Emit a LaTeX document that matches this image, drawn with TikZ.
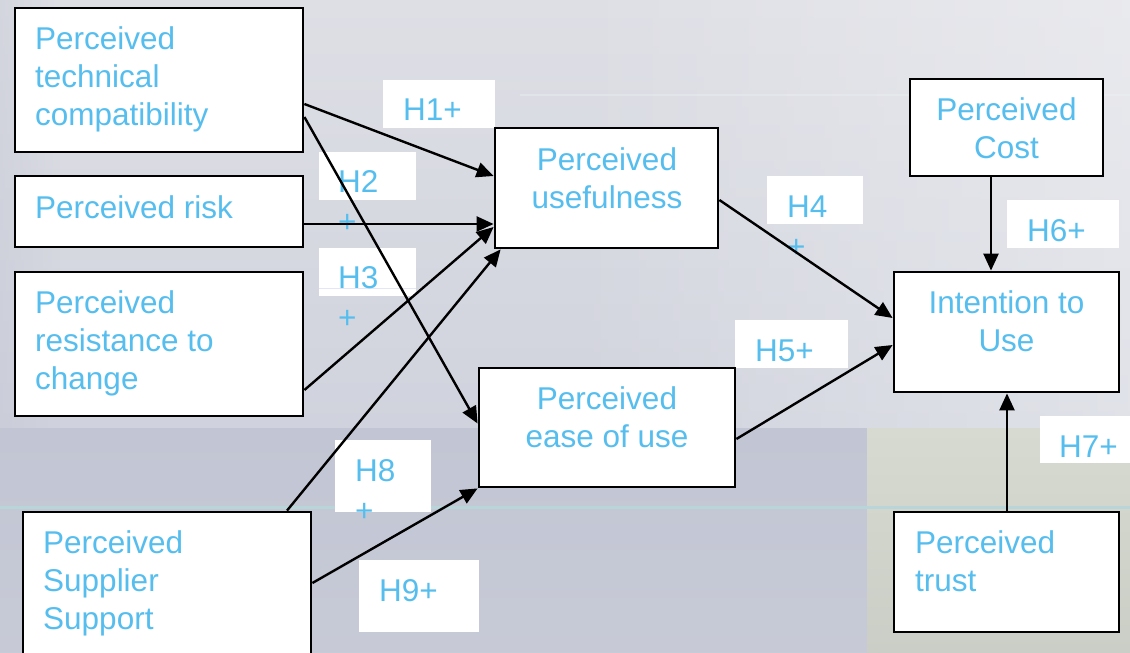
\documentclass[tikz,border=0pt]{standalone}
\usepackage{fontspec}
\setmainfont{Liberation Sans}
\usetikzlibrary{arrows.meta,fadings}
\definecolor{txtblue}{RGB}{86,190,238}
\definecolor{bgtop}{RGB}{222,223,229}
\definecolor{bgmid}{RGB}{208,211,221}
\definecolor{bglow}{RGB}{194,197,211}
\definecolor{bggreen}{RGB}{214,218,208}
\definecolor{bggreenlow}{RGB}{202,206,198}
\definecolor{tealline}{RGB}{184,214,218}
\tikzset{
  box/.style={draw=black, line width=2.8pt, fill=white, inner sep=0pt},
  lbl/.style={fill=white, inner sep=0pt},
  txt/.style={text=txtblue, inner sep=0pt, font=\fontsize{31.5}{38}\selectfont},
  ltxt/.style={text=txtblue, inner sep=0pt, font=\fontsize{31.5}{40}\selectfont},
  arr/.style={line width=2.4pt, -{Triangle[length=17pt,width=15pt]}}
}
\begin{document}
\begin{tikzpicture}[x=1pt,y=-1pt]
\useasboundingbox (0,0) rectangle (1130,653);
\clip (0,0) rectangle (1130,653);
% background
\shade[top color=bgtop, bottom color=bgmid] (0,0) rectangle (1130,428);
\shade[top color=bglow, bottom color=bglow!92!white] (0,428) rectangle (867,653);
\shade[top color=bggreen, bottom color=bggreenlow] (867,428) rectangle (1130,653);
\fill[white, opacity=0.35, path fading=west] (560,0) rectangle (1130,428);
\fill[bglow, opacity=0.35, path fading=east] (0,0) rectangle (60,428);
\draw[tealline, line width=3pt] (0,507) -- (1130,507);
\draw[white!70!tealline, line width=2pt, opacity=0.4] (520,95) -- (1130,95);

% label rectangles
\node[lbl, minimum width=112pt, minimum height=48pt] (l1) at (439,104) {};
\node[lbl, minimum width=97pt, minimum height=48pt] (l2) at (367.5,176) {};
\node[lbl, minimum width=97pt, minimum height=48pt] (l3) at (367.5,272) {};
\node[lbl, minimum width=96pt, minimum height=48pt] (l4) at (815,200) {};
\node[lbl, minimum width=113pt, minimum height=48pt] (l5) at (791.5,344) {};
\node[lbl, minimum width=112pt, minimum height=48pt] (l6) at (1063,224) {};
\node[lbl, minimum width=92pt, minimum height=47pt] (l7) at (1086,439.5) {};
\node[lbl, minimum width=96pt, minimum height=72pt] (l8) at (383,476) {};
\node[lbl, minimum width=120pt, minimum height=72pt] (l9) at (419,596) {};
\draw[bgmid!80!blue!30!white, line width=0.8pt] (l3.west |- 0,288) -- (l3.east |- 0,288);

% label texts
\node[ltxt, anchor=base west] (t1) at (403,120) {H1+};
\node[ltxt, anchor=north west, align=left] (t2) at (338,170.3) {H2\\+};
\node[ltxt, anchor=north west, align=left] (t3) at (338,266.3) {H3\\+};
\node[ltxt, anchor=north west, align=left] (t4) at (787,195.3) {H4\\+};
\node[ltxt, anchor=base west] (t5) at (755,361) {H5+};
\node[ltxt, anchor=base west] (t6) at (1027,241) {H6+};
\node[ltxt, anchor=base west] (t7) at (1059,457) {H7+};
\node[ltxt, anchor=north west, align=left] (t8) at (355,459.3) {H8\\+};
\node[ltxt, anchor=base west] (t9) at (379,601) {H9+};

% boxes
\node[box, minimum width=288pt, minimum height=144pt] (tech) at (159,80) {};
\node[box, minimum width=288pt, minimum height=71pt] (risk) at (159,211.5) {};
\node[box, minimum width=288pt, minimum height=144pt] (resist) at (159,344) {};
\node[box, minimum width=288pt, minimum height=150pt] (supp) at (167,587) {};
\node[box, minimum width=223pt, minimum height=120pt] (useful) at (606.5,188) {};
\node[box, minimum width=256pt, minimum height=119pt] (ease) at (607,427.5) {};
\node[box, minimum width=193pt, minimum height=97pt] (cost) at (1006.5,127.5) {};
\node[box, minimum width=225pt, minimum height=120pt] (intent) at (1006.5,332) {};
\node[box, minimum width=225pt, minimum height=120pt] (trust) at (1006.5,572) {};

% box texts
\node[txt, anchor=north west, align=left] (ttech) at (35,26.5) {Perceived\\technical\\compatibility};
\node[txt, anchor=base west] (trisk) at (35,218) {Perceived risk};
\node[txt, anchor=north west, align=left] (tresist) at (35,290.5) {Perceived\\resistance to\\change};
\node[txt, anchor=north west, align=left] (tsupp) at (43,530.5) {Perceived\\Supplier\\Support};
\node[txt, anchor=north, align=center] (tuseful) at (607,147.5) {Perceived\\usefulness};
\node[txt, anchor=north, align=center] (tease) at (607,386.5) {Perceived\\ease of use};
\node[txt, anchor=north, align=center] (tcost) at (1006.5,97.5) {Perceived\\Cost};
\node[txt, anchor=north, align=center] (tintent) at (1006.5,290.5) {Intention to\\Use};
\node[txt, anchor=north west, align=left] (ttrust) at (915,530.5) {Perceived\\trust};

% connectors
\draw[arr] ([yshift=-24pt]tech.east) -- ([yshift=12pt]useful.west);
\draw[arr] ([yshift=-37pt]tech.east) -- ([yshift=4pt]ease.west);
\draw[arr] ([yshift=-12.5pt]risk.east) -- ([yshift=-36pt]useful.west);
\draw[arr] ([yshift=-46pt]resist.east) -- ([yshift=-39pt]useful.west);
\draw[arr] ([xshift=120pt]supp.north) -- ([xshift=7pt]useful.south west);
\draw[arr] (supp.east |- 0,583) -- (ease.south west);
\draw[arr] ([yshift=-12pt]useful.east) -- ([yshift=14pt]intent.west);
\draw[arr] ([yshift=-11.5pt]ease.east) -- ([yshift=-13pt]intent.west);
\draw[arr] ([xshift=-15.5pt]cost.south) -- ([xshift=-15.5pt]intent.north);
\draw[arr] ([xshift=0.5pt]trust.north) -- ([xshift=0.5pt]intent.south);
\end{tikzpicture}
\end{document}
